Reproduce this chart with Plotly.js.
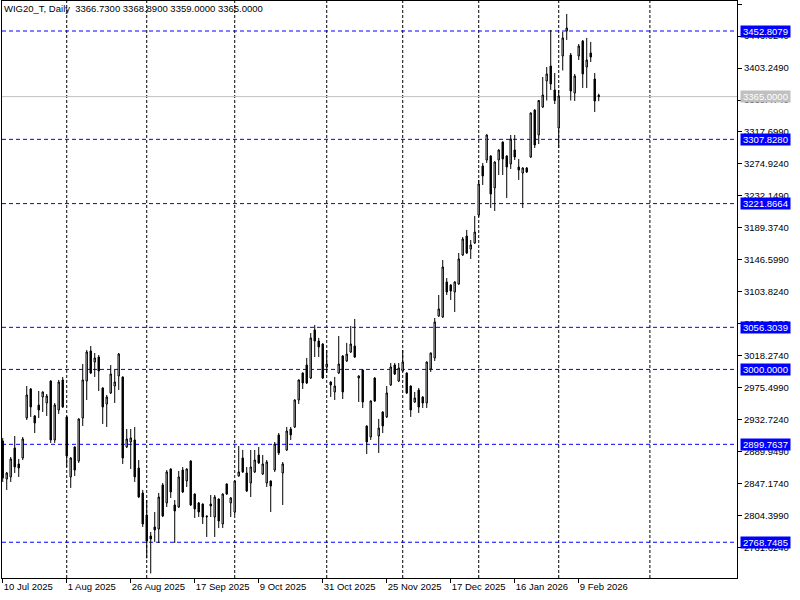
<!DOCTYPE html>
<html>
<head>
<meta charset="utf-8">
<script src="https://cdn.plot.ly/plotly-3.0.1.min.js"></script>
<style>html,body{margin:0;padding:0;background:#fff;}#chart{width:800px;height:600px;}</style>
</head>
<body>
<div id="chart"></div>
<script>
const symbol = 'WIG20_T';
const timeframe = 'Daily';

const dates = [
'2025-07-10','2025-07-11','2025-07-14','2025-07-15','2025-07-16','2025-07-17','2025-07-18','2025-07-21','2025-07-22','2025-07-23',
'2025-07-24','2025-07-25','2025-07-28','2025-07-29','2025-07-30','2025-07-31','2025-08-01','2025-08-04','2025-08-05','2025-08-06',
'2025-08-07','2025-08-08','2025-08-11','2025-08-12','2025-08-13','2025-08-14','2025-08-18','2025-08-19','2025-08-20','2025-08-21',
'2025-08-22','2025-08-25','2025-08-26','2025-08-27','2025-08-28','2025-08-29','2025-09-01','2025-09-02','2025-09-03','2025-09-04',
'2025-09-05','2025-09-08','2025-09-09','2025-09-10','2025-09-11','2025-09-12','2025-09-15','2025-09-16','2025-09-17','2025-09-18',
'2025-09-19','2025-09-22','2025-09-23','2025-09-24','2025-09-25','2025-09-26','2025-09-29','2025-09-30','2025-10-01','2025-10-02',
'2025-10-03','2025-10-06','2025-10-07','2025-10-08','2025-10-09','2025-10-10','2025-10-13','2025-10-14','2025-10-15','2025-10-16',
'2025-10-17','2025-10-20','2025-10-21','2025-10-22','2025-10-23','2025-10-24','2025-10-27','2025-10-28','2025-10-29','2025-10-30',
'2025-10-31','2025-11-03','2025-11-04','2025-11-05','2025-11-06','2025-11-07','2025-11-10','2025-11-12','2025-11-13','2025-11-14',
'2025-11-17','2025-11-18','2025-11-19','2025-11-20','2025-11-21','2025-11-24','2025-11-25','2025-11-26','2025-11-27','2025-11-28',
'2025-12-01','2025-12-02','2025-12-03','2025-12-04','2025-12-05','2025-12-08','2025-12-09','2025-12-10','2025-12-11','2025-12-12',
'2025-12-15','2025-12-16','2025-12-17','2025-12-18','2025-12-19','2025-12-22','2025-12-23','2025-12-29','2025-12-30','2026-01-02',
'2026-01-05','2026-01-07','2026-01-08','2026-01-09','2026-01-12','2026-01-13','2026-01-14','2026-01-15','2026-01-16','2026-01-19',
'2026-01-20','2026-01-21','2026-01-22','2026-01-23','2026-01-26','2026-01-27','2026-01-28','2026-01-29','2026-01-30','2026-02-02',
'2026-02-03','2026-02-04','2026-02-05','2026-02-06','2026-02-09','2026-02-10','2026-02-11','2026-02-12','2026-02-13','2026-02-16'
];

const open = [
2904.2,2853.4,2856.1,2894.9,2873.5,2881.5,2935.0,2973.8,2937.7,2952.4,
2963.1,2955.1,2984.5,2905.6,2945.7,2985.9,2936.4,2856.1,2896.2,2877.5,
2935.0,2984.5,3024.7,3009.9,3016.6,2975.2,2953.7,2968.5,2977.8,2991.2,
2989.9,2896.2,2902.9,2905.6,2868.1,2834.7,2805.2,2777.1,2789.2,2786.5,
2845.4,2821.3,2866.8,2818.6,2815.9,2865.4,2850.7,2877.5,2833.3,2821.3,
2819.9,2803.9,2819.9,2802.5,2826.6,2793.2,2846.7,2821.3,2809.2,2857.4,
2881.5,2861.4,2848.0,2862.8,2885.5,2860.1,2848.0,2850.7,2865.4,2912.3,
2861.4,2892.2,2920.3,2923.0,2959.1,2995.2,3005.9,2988.5,3052.8,3038.0,
3034.0,3003.3,2983.2,2969.8,2995.2,3018.0,3011.3,3023.3,3031.3,2988.5,
2999.2,2924.3,2909.6,2988.5,2910.9,2943.0,2936.4,2979.2,3005.9,2984.5,
2997.9,2995.2,2977.8,2956.4,2972.5,2963.1,2955.1,3000.6,3015.3,3071.5,
3070.2,3117.0,3113.0,3103.6,3114.3,3153.1,3178.5,3161.1,3169.2,3206.6,
3272.2,3280.2,3285.6,3242.8,3280.2,3304.3,3285.6,3274.9,3293.6,3270.8,
3262.8,3269.5,3284.2,3347.1,3313.7,3351.1,3385.9,3406.0,3373.9,3323.0,
3419.4,3452.8,3420.7,3369.9,3419.4,3439.4,3404.6,3423.4,3388.6,3366.73
];
const high = [
2908.3,2862.8,2882.8,2910.9,2880.2,2909.6,2977.8,2975.0,2939.0,2971.1,
2970.5,2967.1,2985.5,2955.1,2985.9,2989.9,2937.5,2882.5,2897.0,2934.5,
3007.3,3026.0,3031.3,3022.0,3019.3,2976.0,2965.8,3005.9,2999.2,3022.0,
2990.5,2920.3,2920.3,2923.0,2878.8,2838.7,2825.3,2782.5,2809.2,2834.7,
2848.0,2865.4,2867.5,2825.3,2864.1,2869.4,2867.5,2878.2,2834.0,2822.6,
2820.6,2804.5,2832.0,2832.0,2827.3,2834.0,2847.5,2829.3,2851.5,2897.5,
2892.2,2869.4,2892.2,2892.2,2896.2,2885.5,2878.8,2851.5,2902.9,2914.9,
2876.1,2923.0,2923.0,2960.0,2986.6,2996.0,3015.3,3048.7,3059.4,3042.1,
3035.0,3026.0,2984.0,2989.9,3044.7,3019.0,3035.4,3058.1,3067.5,2992.0,
3000.0,2925.0,2958.5,2989.5,2933.7,2944.0,2977.8,3008.6,3008.6,3008.6,
3026.0,2996.0,2978.5,2969.8,2975.2,2964.0,3010.5,3022.5,3068.8,3099.6,
3146.4,3122.3,3114.0,3118.0,3155.8,3177.2,3186.6,3173.2,3205.3,3253.5,
3276.2,3314.5,3286.5,3278.5,3294.5,3305.0,3286.5,3313.7,3313.7,3281.6,
3270.5,3270.8,3344.0,3348.0,3360.5,3391.3,3404.6,3454.2,3396.6,3373.9,
3451.5,3475.6,3423.4,3395.3,3435.4,3440.8,3443.5,3438.1,3396.6,3368.89
];
const low = [
2849.4,2838.7,2849.4,2861.4,2856.1,2878.8,2932.3,2936.4,2914.9,2935.0,
2943.0,2937.7,2901.6,2901.6,2940.4,2948.4,2869.4,2841.4,2857.4,2874.8,
2924.3,2959.1,2993.9,2989.9,2971.1,2927.0,2923.0,2967.1,2955.1,2972.5,
2873.5,2894.9,2866.8,2849.4,2828.0,2789.2,2747.1,2727.0,2769.1,2767.8,
2802.5,2815.9,2828.0,2767.8,2814.6,2834.7,2842.7,2817.3,2801.2,2802.5,
2793.2,2775.8,2802.5,2775.8,2787.8,2787.8,2832.0,2802.5,2805.2,2856.5,
2861.4,2836.0,2829.3,2861.4,2873.5,2858.7,2842.7,2809.2,2862.8,2885.5,
2818.6,2890.9,2905.6,2921.6,2953.7,2973.8,2980.5,2987.2,3016.6,3016.6,
2987.2,2995.2,2963.1,2959.1,2993.9,2960.4,3009.9,3022.0,3015.3,2956.4,
2948.4,2886.8,2905.6,2956.4,2888.2,2914.9,2935.0,2977.8,2992.5,2983.2,
2996.6,2967.1,2936.4,2955.1,2941.7,2948.4,2948.4,2996.6,3011.3,3070.2,
3068.8,3099.6,3092.9,3076.8,3113.0,3151.8,3154.4,3147.8,3167.8,3203.9,
3246.8,3276.2,3216.0,3212.0,3260.1,3260.1,3229.4,3268.2,3280.2,3253.5,
3216.0,3262.8,3282.9,3296.3,3301.6,3349.8,3359.8,3373.9,3355.1,3296.3,
3400.0,3440.8,3359.8,3359.2,3414.0,3376.6,3376.6,3411.3,3344.4,3359.00
];
const close = [
2854.7,2861.4,2880.2,2869.4,2868.1,2906.9,2965.8,2949.7,2928.3,2945.7,
2969.8,2964.4,2905.6,2952.4,2983.2,2949.7,2884.2,2881.5,2865.4,2933.7,
2985.9,3023.3,2995.2,3015.3,2997.9,2949.7,2963.1,2993.9,2983.2,3020.6,
2881.5,2906.9,2908.3,2856.1,2829.3,2793.2,2770.4,2773.1,2785.2,2829.3,
2803.9,2862.8,2836.0,2810.6,2856.1,2836.0,2866.8,2818.6,2813.3,2809.2,
2802.5,2802.9,2817.3,2829.3,2797.2,2833.3,2833.3,2828.0,2850.7,2862.8,
2862.8,2837.3,2869.4,2878.8,2874.8,2873.5,2876.1,2844.0,2900.2,2888.2,
2873.5,2917.6,2912.3,2959.1,2985.9,2981.8,2981.8,3042.1,3038.0,3030.0,
2988.5,3007.3,2979.2,2977.8,3007.3,2969.8,3020.6,3034.0,3016.6,2991.2,
2956.4,2902.9,2957.8,2957.8,2921.6,2924.3,2968.5,3003.3,2993.9,3001.9,
3009.9,2968.5,2945.7,2961.8,2949.7,2955.1,3009.9,3022.0,3063.5,3080.9,
3137.0,3103.6,3104.9,3117.0,3147.8,3174.5,3155.8,3166.5,3183.9,3248.1,
3258.8,3313.7,3234.7,3277.5,3293.6,3281.6,3270.8,3308.3,3284.2,3266.8,
3269.5,3264.2,3343.1,3300.3,3359.8,3367.2,3395.3,3381.9,3359.8,3365.8,
3443.5,3456.8,3372.5,3392.6,3432.7,3395.3,3414.0,3418.0,3359.2,3365.00
];

// bottom time scale labels
const tickDates  = ['2025-07-10','2025-08-01','2025-08-26','2025-09-17','2025-10-09','2025-10-31','2025-11-25','2025-12-17','2026-01-16','2026-02-09'];
const tickLabels = ['10 Jul 2025','1 Aug 2025','26 Aug 2025','17 Sep 2025','9 Oct 2025','31 Oct 2025','25 Nov 2025','17 Dec 2025','16 Jan 2026','9 Feb 2026'];
// vertical grid (month starts) and one future grid position in bar units
const gridDates = ['2025-08-01','2025-09-01','2025-10-01','2025-11-03','2025-12-01','2026-01-02','2026-02-02'];
const futureGridBar = 161.8;
// horizontal levels
const levels = [3452.8079, 3307.8280, 3221.8664, 3056.3039, 3000.0000, 2899.7637, 2768.7485];

const FONT = 'Liberation Sans, Arial, sans-serif';
const FS = 9.5;
const xIdx = dates.map((d, i) => i);
const last = dates.length - 1;
const lastClose = close[last];

const trace = {
  type: 'candlestick',
  x: xIdx,
  open: open, high: high, low: low, close: close,
  increasing: {line: {color: '#000000', width: 1}, fillcolor: '#ffffff'},
  decreasing: {line: {color: '#000000', width: 1}, fillcolor: '#000000'},
  whiskerwidth: 0,
  hoverinfo: 'skip',
  showlegend: false
};

const shapes = [];
gridDates.map(d => dates.indexOf(d)).concat([futureGridBar]).forEach(ix => {
  shapes.push({type: 'line', xref: 'x', yref: 'paper', x0: ix, x1: ix, y0: 0, y1: 1,
    line: {color: '#000000', width: 1, dash: '3px,2px'}, layer: 'below'});
});
levels.forEach(v => {
  shapes.push({type: 'line', xref: 'paper', yref: 'y', x0: 0, x1: 1, y0: v, y1: v,
    line: {color: '#0000ff', width: 1, dash: '4px,3px'}, layer: 'below'});
});
shapes.push({type: 'line', xref: 'paper', yref: 'y', x0: 0, x1: 1, y0: lastClose, y1: lastClose,
  line: {color: '#c0c0c0', width: 1}, layer: 'below'});

const annotations = levels.map(v => ({
  xref: 'paper', x: 1, xanchor: 'left', xshift: 3,
  yref: 'y', y: v, yanchor: 'middle',
  text: v.toFixed(4), showarrow: false,
  font: {family: FONT, size: FS, color: '#ffffff'},
  bgcolor: '#0000ff', borderpad: 0, width: 49, height: 11
}));
annotations.push({
  xref: 'paper', x: 1, xanchor: 'left', xshift: 3,
  yref: 'y', y: lastClose, yanchor: 'middle',
  text: lastClose.toFixed(4), showarrow: false,
  font: {family: FONT, size: FS, color: '#ffffff'},
  bgcolor: '#c0c0c0', borderpad: 0, width: 49, height: 11
});

const titleText = symbol + ', ' + timeframe + '\u00a0\u00a0' +
  [open[last], high[last], low[last], close[last]].map(v => v.toFixed(4)).join(' ');

const layout = {
  width: 800, height: 600,
  margin: {l: 2, r: 63, t: 1, b: 22},
  paper_bgcolor: '#ffffff', plot_bgcolor: '#ffffff',
  showlegend: false,
  boxgap: 0.5,
  title: {text: titleText, x: 0.005, xref: 'container', xanchor: 'left',
          y: 0.985, yref: 'container', yanchor: 'middle',
          font: {family: FONT, size: FS, color: '#000000'}},
  xaxis: {
    range: [-0.18, 183.57],
    tickmode: 'array',
    tickvals: tickDates.map(d => dates.indexOf(d)),
    ticktext: tickLabels,
    ticks: 'outside', ticklen: 4, tickcolor: '#000000',
    ticklabelposition: 'outside right',
    tickfont: {family: FONT, size: FS, color: '#000000'},
    showline: true, mirror: true, linecolor: '#000000', linewidth: 1,
    showgrid: false, zeroline: false,
    rangeslider: {visible: false}, fixedrange: true
  },
  yaxis: {
    side: 'right',
    range: [2720.9, 3492.95],
    tickmode: 'linear', tick0: 2761.624, dtick: 42.775,
    tickformat: '.4f',
    ticks: 'outside', ticklen: 4, tickcolor: '#000000',
    tickfont: {family: FONT, size: FS, color: '#000000'},
    showline: true, mirror: true, linecolor: '#000000', linewidth: 1,
    showgrid: false, zeroline: false, fixedrange: true
  },
  shapes: shapes,
  annotations: annotations
};

Plotly.newPlot('chart', [trace], layout, {displayModeBar: false, staticPlot: true});
</script>
</body>
</html>
